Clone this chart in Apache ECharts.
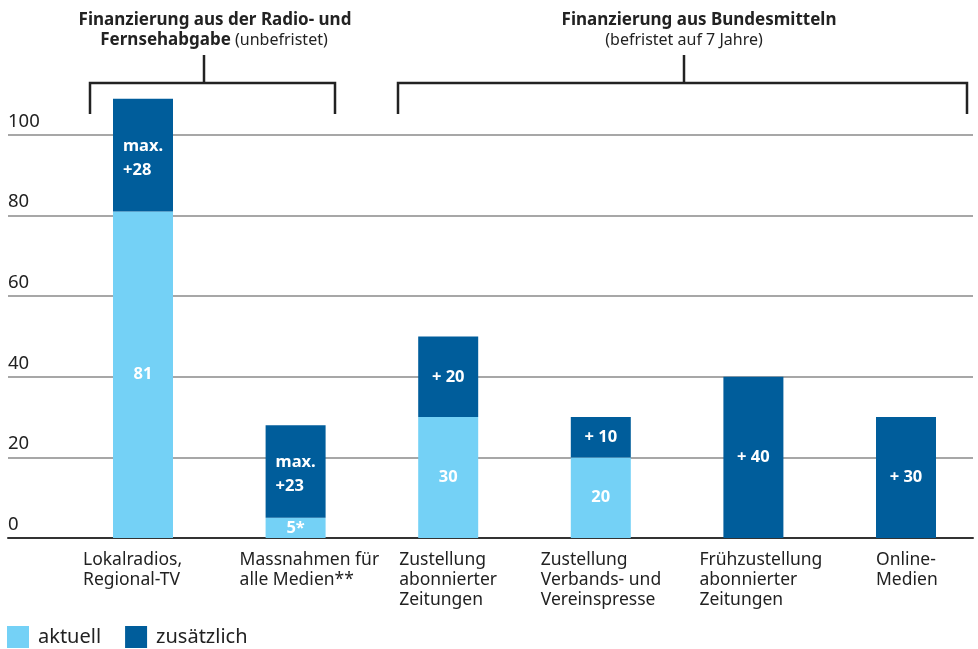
<!DOCTYPE html>
<html>
<head>
<meta charset="utf-8">
<script src="https://cdn.jsdelivr.net/npm/echarts@6/dist/echarts.min.js"></script>
<style>
  html, body { margin: 0; padding: 0; background: #fff; }
  #chart { width: 978px; height: 649px; }
</style>
</head>
<body>
<div id="chart"></div>
<script>
// Werte
var categories = ['Lokalradios,\nRegional-TV', 'Massnahmen für\nalle Medien**', 'Zustellung\nabonnierter\nZeitungen',
  'Zustellung\nVerbands- und\nVereinspresse', 'Frühzustellung\nabonnierter\nZeitungen', 'Online-\nMedien']
var aktuell = [81, 5, 30, 20, '-', '-']
var zusaetzlich = [28, 23, 20, 10, 40, 30]
var aktuellLabels = ['81', '5*', '30', '20', '', '']
var zusaetzlichLabels = ['max.\n+28', 'max.\n+23', '+ 20', '+ 10', '+ 40', '+ 30']
var yMax = 100
var yStep = 20

var FONT = '"Noto Sans", "Open Sans", sans-serif'
var TEXT = '#222'
var LIGHT = '#74d1f6'
var DARK = '#005d9b'

// Kategorie-Beschriftung: linksbündig, etwas links von der Balkenmitte
var indent = [60, 56, 49, 60, 54, 30]
var catRich = {}
indent.forEach(function (w, i) {
  catRich['c' + i] = { width: w, align: 'left', fontSize: 17.5, lineHeight: 20, color: TEXT, fontFamily: FONT }
})

var chart = echarts.init(document.getElementById('chart'))

chart.setOption({
  animation: false,
  textStyle: { fontFamily: FONT },
  grid: [
    { left: 8, right: 5, top: 135, bottom: 111 },
    // Balken-Raster: Kategorien auf den Teilstrichen (boundaryGap false)
    { left: 143, width: 763, top: 94.7, bottom: 111 }
  ],
  legend: {
    left: 7,
    top: 626,
    padding: 0,
    itemWidth: 22,
    itemHeight: 22,
    itemGap: 24,
    icon: 'rect',
    textStyle: { fontSize: 20, color: TEXT, padding: [0, 0, 0, 4] },
    data: ['aktuell', 'zusätzlich']
  },
  xAxis: [
    {
      gridIndex: 0,
      type: 'category',
      data: categories,
      axisTick: { show: false },
      axisLabel: { show: false },
      axisLine: { lineStyle: { color: '#333', width: 2 } }
    },
    {
      gridIndex: 1,
      type: 'category',
      data: categories,
      boundaryGap: false,
      axisTick: { show: false },
      axisLine: { show: false },
      axisLabel: {
        interval: 0,
        margin: 12,
        align: 'right',
        formatter: function (v, i) { return '{c' + i + '|' + v + '}' },
        rich: catRich
      }
    }
  ],
  yAxis: [
    {
      gridIndex: 0,
      type: 'value',
      min: 0,
      max: yMax,
      interval: yStep,
      axisLine: { show: false },
      axisTick: { show: false },
      splitLine: { lineStyle: { color: '#8a8a8a', width: 1.5 } },
      axisLabel: {
        inside: true,
        margin: 0,
        showMinLabel: true,
        showMaxLabel: true,
        verticalAlign: 'bottom',
        padding: [0, 0, 4, 0],
        fontSize: 18.5,
        color: TEXT
      }
    },
    {
      gridIndex: 1,
      type: 'value',
      min: 0,
      max: 110,
      show: false
    }
  ],
  series: [
    {
      name: 'aktuell',
      type: 'bar',
      stack: 'total',
      xAxisIndex: 1,
      yAxisIndex: 1,
      barWidth: 60,
      itemStyle: { color: LIGHT },
      label: {
        show: true,
        position: 'inside',
        color: '#fff',
        fontWeight: 'bold',
        fontSize: 16.5,
        formatter: function (p) { return aktuellLabels[p.dataIndex] }
      },
      data: aktuell
    },
    {
      name: 'zusätzlich',
      type: 'bar',
      stack: 'total',
      xAxisIndex: 1,
      yAxisIndex: 1,
      barWidth: 60,
      itemStyle: { color: DARK },
      label: {
        show: true,
        position: 'inside',
        color: '#fff',
        fontWeight: 'bold',
        fontSize: 16.5,
        lineHeight: 24,
        formatter: function (p) {
          var t = zusaetzlichLabels[p.dataIndex]
          return t.indexOf('\n') > -1 ? '{m|' + t + '}' : t
        },
        rich: {
          m: { width: 40, align: 'left', color: '#fff', fontWeight: 'bold', fontSize: 16.5, lineHeight: 24, fontFamily: FONT, padding: [6, 0, 0, 0] }
        }
      },
      data: zusaetzlich
    }
  ],
  graphic: [
    // Klammern oben
    { type: 'polyline', shape: { points: [[90, 114], [90, 83], [335, 83], [335, 114]] }, style: { stroke: TEXT, lineWidth: 2.5, fill: null } },
    { type: 'line', shape: { x1: 204, y1: 83, x2: 204, y2: 55 }, style: { stroke: TEXT, lineWidth: 2.5 } },
    { type: 'polyline', shape: { points: [[398, 114], [398, 83], [967, 83], [967, 114]] }, style: { stroke: TEXT, lineWidth: 2.5, fill: null } },
    { type: 'line', shape: { x1: 684, y1: 83, x2: 684, y2: 55 }, style: { stroke: TEXT, lineWidth: 2.5 } },
    {
      type: 'text', x: 215, y: 20,
      style: { text: 'Finanzierung aus der Radio- und', align: 'center', verticalAlign: 'middle', fill: TEXT, fontSize: 17, fontWeight: 'bold', fontFamily: FONT }
    },
    {
      type: 'text', x: 214, y: 40,
      style: {
        text: '{b|Fernsehabgabe} {n|(unbefristet)}', align: 'center', verticalAlign: 'middle', fill: TEXT, fontSize: 16, fontFamily: FONT,
        rich: {
          b: { fontSize: 17, fontWeight: 'bold', fill: TEXT, fontFamily: FONT },
          n: { fontSize: 16, fill: TEXT, fontFamily: FONT }
        }
      }
    },
    {
      type: 'text', x: 699, y: 20,
      style: { text: 'Finanzierung aus Bundesmitteln', align: 'center', verticalAlign: 'middle', fill: TEXT, fontSize: 17, fontWeight: 'bold', fontFamily: FONT }
    },
    {
      type: 'text', x: 684, y: 40,
      style: { text: '(befristet auf 7 Jahre)', align: 'center', verticalAlign: 'middle', fill: TEXT, fontSize: 16, fontFamily: FONT }
    }
  ]
})
</script>
</body>
</html>
